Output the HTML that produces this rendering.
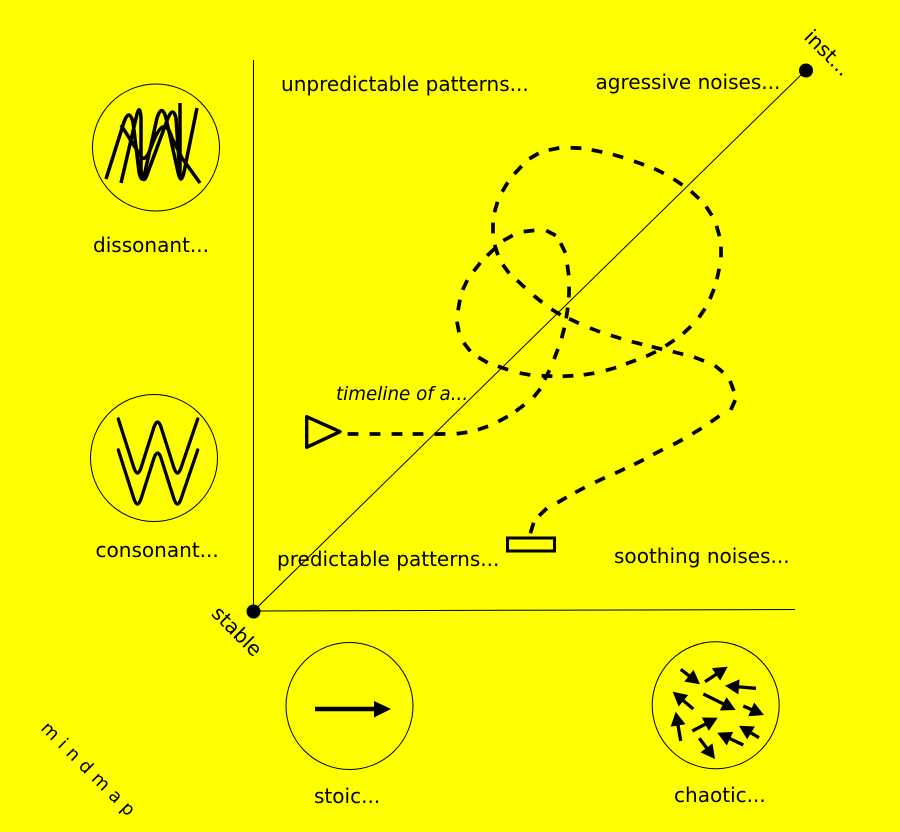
<!DOCTYPE html>
<html>
<head>
<meta charset="utf-8">
<style>
html,body{margin:0;padding:0;background:#ff0;width:900px;height:832px;overflow:hidden}
svg{display:block}
text{font-family:"DejaVu Sans",sans-serif;font-size:20.05px;fill:#000}
</style>
</head>
<body>
<svg width="900" height="832" viewBox="0 0 900 832" xmlns="http://www.w3.org/2000/svg">
<defs>
<marker id="d" markerUnits="userSpaceOnUse" markerWidth="12" markerHeight="6" refX="6" refY="3" orient="auto">
<rect x="0.6" y="1.15" width="10.8" height="3.7" fill="#000"/>
</marker>
</defs>
<rect width="900" height="832" fill="#ff0"/>

<!-- axes -->
<g stroke="#000" stroke-width="1" fill="none">
<line x1="253.5" y1="60" x2="253.5" y2="611"/>
<line x1="253.5" y1="611" x2="795" y2="609.5"/>
<line x1="253.5" y1="611" x2="806" y2="70"/>
</g>
<circle cx="253.5" cy="611.5" r="7"/>
<circle cx="806" cy="70.5" r="7"/>

<!-- circles -->
<g fill="none" stroke="#000" stroke-width="1">
<circle cx="156" cy="147.5" r="63.5"/>
<circle cx="154" cy="458" r="63.5"/>
<circle cx="349.5" cy="706" r="63.5"/>
<circle cx="715.7" cy="705.3" r="63.5"/>
</g>

<!-- dissonant -->
<g fill="none" stroke="#000" stroke-width="3.5">
<path d="M106,179 L124,122 Q129,108 133,122 L139,172 Q142,186 145,172 L157,118 Q162,103 166,118 L178,172 Q181,186 184,172 L197,108"/>
<path d="M121,183 L137,114 Q140,104 141,118 L141,170 Q143,188 148,172 L168,118 Q173,106 176,118 L180,176 L180,103"/>
<path d="M121,125 L142,158 Q146,160 150,150 Q158,128 163,127 Q168,125 172,138 L182,158 L200,183"/>
</g>

<!-- consonant -->
<g fill="none" stroke="#000" stroke-width="3.3" stroke-linecap="round">
<path d="M118.3,419 L134,468 Q137.3,478 141,468 L154,427 Q157.7,417 161,427 L174,468 Q177.3,478 181,468 L197.7,419"/>
<path d="M118.3,450 L134,499 Q137.3,509 141,499 L154,458 Q157.7,448 161,458 L174,499 Q177.3,509 181,499 L197.7,450"/>
</g>

<!-- stoic arrow -->
<line x1="315" y1="709" x2="376" y2="709" stroke="#000" stroke-width="4.5"/>
<polygon points="374,701 391,709 374,717.5" fill="#000"/>

<!-- chaotic arrows -->
<g stroke="#000" stroke-width="3.3" fill="none">
<line x1="680.7" y1="669.3" x2="700" y2="684.3" pathLength="1" stroke-dasharray="0.7 1"/>
<line x1="705" y1="681.7" x2="727.7" y2="666.7" pathLength="1" stroke-dasharray="0.7 1"/>
<line x1="756" y1="688.3" x2="725" y2="685.7" pathLength="1" stroke-dasharray="0.7 1"/>
<line x1="703.3" y1="694" x2="735.7" y2="710" pathLength="1" stroke-dasharray="0.7 1"/>
<line x1="693.3" y1="709" x2="672.7" y2="691.7" pathLength="1" stroke-dasharray="0.7 1"/>
<line x1="743.3" y1="706" x2="764" y2="715" pathLength="1" stroke-dasharray="0.7 1"/>
<line x1="692.3" y1="731" x2="717.7" y2="717.7" pathLength="1" stroke-dasharray="0.7 1"/>
<line x1="759" y1="737.7" x2="739" y2="725.7" pathLength="1" stroke-dasharray="0.7 1"/>
<line x1="743.3" y1="745" x2="717.3" y2="732.7" pathLength="1" stroke-dasharray="0.7 1"/>
<line x1="680.7" y1="741" x2="675.7" y2="711.7" pathLength="1" stroke-dasharray="0.7 1"/>
<line x1="699.3" y1="738.3" x2="715" y2="759" pathLength="1" stroke-dasharray="0.7 1"/>
</g>
<g fill="#000">
<polygon points="0,-7.5 14,0 0,7.5" transform="translate(700,684.3) rotate(37.9) translate(-14,0)"/>
<polygon points="0,-7.5 14,0 0,7.5" transform="translate(727.7,666.7) rotate(-33.5) translate(-14,0)"/>
<polygon points="0,-7.5 14,0 0,7.5" transform="translate(725,685.7) rotate(184.8) translate(-14,0)"/>
<polygon points="0,-7.5 14,0 0,7.5" transform="translate(735.7,710) rotate(26.3) translate(-14,0)"/>
<polygon points="0,-7.5 14,0 0,7.5" transform="translate(672.7,691.7) rotate(220) translate(-14,0)"/>
<polygon points="0,-7.5 14,0 0,7.5" transform="translate(764,715) rotate(23.5) translate(-14,0)"/>
<polygon points="0,-7.5 14,0 0,7.5" transform="translate(717.7,717.7) rotate(-27.6) translate(-14,0)"/>
<polygon points="0,-7.5 14,0 0,7.5" transform="translate(739,725.7) rotate(211) translate(-14,0)"/>
<polygon points="0,-7.5 14,0 0,7.5" transform="translate(717.3,732.7) rotate(205.3) translate(-14,0)"/>
<polygon points="0,-7.5 14,0 0,7.5" transform="translate(675.7,711.7) rotate(260.3) translate(-14,0)"/>
<polygon points="0,-7.5 14,0 0,7.5" transform="translate(715,759) rotate(52.8) translate(-14,0)"/>
</g>

<!-- timeline -->
<polygon points="306.7,416.7 340,431.7 306.7,447.3" fill="none" stroke="#000" stroke-width="3.4" stroke-linejoin="round"/>
<rect x="507.5" y="538" width="47" height="13" fill="none" stroke="#000" stroke-width="3"/>
<polyline fill="none" stroke="none" marker-mid="url(#d)"
points="342,434 353,434 375,434 397,434 418,434 440,434 462,433 483,428 503,419 520,408 537,393 547,375 556,354 563,333 567,313 569,292 568,270 563,248 551,233 529,231 508,238 491,252 477,267 465,285 459,305 458,327 467,347 483,360 503,368 525,374 547,376 568,376 589,374 611,369 631,362 651,354 670,343 687,330 702,313 712,294 718,274 721,252 718,231 709,211 695,195 678,182 659,171 639,163 618,156 597,151 576,148 554,149 534,156 518,170 505,187 496,207 493,228 496.3,250 506,269 521,284 538,299 556,312 574,321 595,330 616,337 637,343 657,348 678,353 699,359 719,369 732,386 733,405 715,419 697,431 678,442 658,452 639,462 620,471 600,480 580,490 562,500 543,512 532,528 532,540"/>

<!-- labels -->
<text x="281" y="91">unpredictable patterns...</text>
<text x="595.5" y="89">agressive noises...</text>
<text x="93" y="252">dissonant...</text>
<text x="95.5" y="557">consonant...</text>
<text x="277" y="566">predictable patterns...</text>
<text x="614" y="563">soothing noises...</text>
<text x="314" y="803">stoic...</text>
<text x="674" y="802">chaotic...</text>
<text x="336" y="400" style="font-size:18.3px;font-style:italic">timeline of a...</text>
<text transform="translate(210.5,614.5) rotate(45)">stable</text>
<text transform="translate(803,38) rotate(45)">inst...</text>
<text transform="translate(40,729) rotate(45)" style="font-size:18px;letter-spacing:6.5px">mindmap</text>
</svg>
</body>
</html>
